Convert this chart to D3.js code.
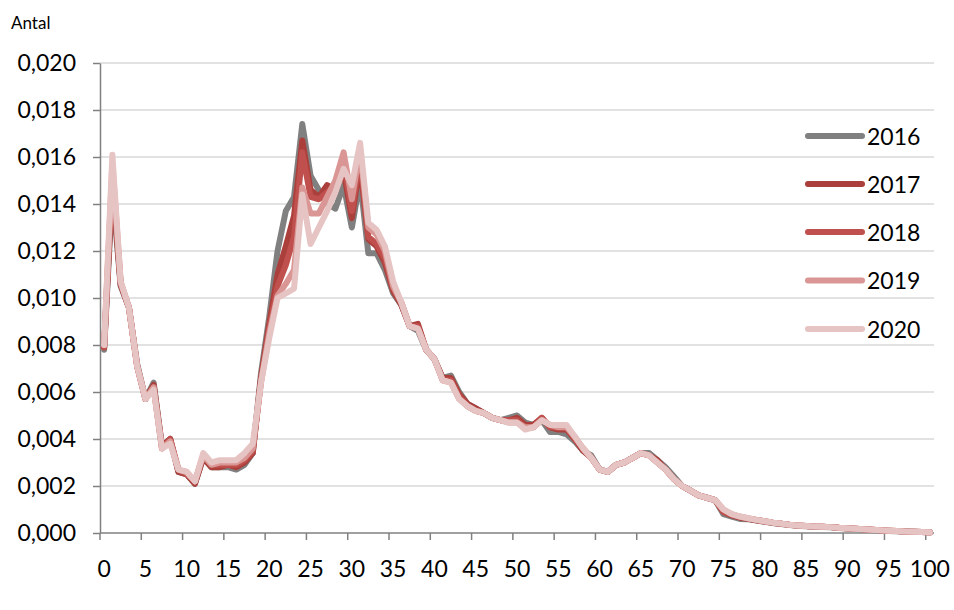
<!DOCTYPE html>
<html>
<head>
<meta charset="utf-8">
<script src="https://cdn.jsdelivr.net/npm/d3@7"></script>
<style>
  html, body { margin: 0; padding: 0; background: #fff; }
  svg { display: block; }
  text { font-family: Lato, "Open Sans", sans-serif; fill: #000; }
</style>
</head>
<body>
<svg id="chart" width="954" height="610"></svg>
<script>
// ---- Data ----
const ages = d3.range(0, 101);
const xTickLabels = [0, 5, 10, 15, 20, 25, 30, 35, 40, 45, 50, 55, 60, 65, 70, 75, 80, 85, 90, 95, 100];
const yTickValues = [0, 0.002, 0.004, 0.006, 0.008, 0.010, 0.012, 0.014, 0.016, 0.018, 0.020];
const seriesNames = ["2016", "2017", "2018", "2019", "2020"];

const v2016 = [
  0.0078, 0.0146, 0.0105, 0.0096, 0.0072, 0.0057, 0.0064, 0.0037, 0.0040, 0.0026,
  0.0025, 0.0021, 0.0032, 0.0028, 0.0028, 0.0028, 0.0027, 0.0029, 0.0034, 0.0068,
  0.0092, 0.0120, 0.0137, 0.0143, 0.0174, 0.0152, 0.0146, 0.0140, 0.0138, 0.0148,
  0.0130, 0.0150, 0.0119, 0.0119, 0.0112, 0.0102, 0.0097, 0.0088, 0.0086, 0.0078,
  0.0074, 0.0066, 0.0067, 0.0060, 0.0055, 0.0053, 0.0051, 0.0049, 0.0048, 0.0049,
  0.0050, 0.0047, 0.0046, 0.0048, 0.0043, 0.0043, 0.0042, 0.0039, 0.0035, 0.0033,
  0.0027, 0.0026, 0.0029, 0.0030, 0.0032, 0.0034, 0.0034, 0.0031, 0.0028, 0.0024,
  0.0020, 0.0018, 0.0016, 0.0015, 0.0014, 0.0008, 0.0007, 0.0006, 0.00058, 0.00053,
  0.00048, 0.00042, 0.00038, 0.00034, 0.00031, 0.00029, 0.00027, 0.00026, 0.00024, 0.00021,
  0.00019, 0.00017, 0.00015, 0.00013, 0.00011, 0.00009, 0.00007, 0.00006, 0.00005, 0.00004,
  0.00003
];
const v2017 = [
  0.0079, 0.0150, 0.0106, 0.0096, 0.0071, 0.0057, 0.0063, 0.0037, 0.0040, 0.0026,
  0.0025, 0.0021, 0.0032, 0.0028, 0.0028, 0.0029, 0.0028, 0.0030, 0.0034, 0.0066,
  0.0089, 0.0110, 0.0122, 0.0135, 0.0167, 0.0146, 0.0143, 0.0148, 0.0146, 0.0154,
  0.0134, 0.0157, 0.0125, 0.0122, 0.0115, 0.0103, 0.0097, 0.0088, 0.0089, 0.0078,
  0.0074, 0.0066, 0.0066, 0.0059, 0.0055, 0.0053, 0.0051, 0.0049, 0.0048, 0.0048,
  0.0049, 0.0046, 0.0046, 0.0049, 0.0045, 0.0044, 0.0044, 0.0040, 0.0035, 0.0032,
  0.0027, 0.0026, 0.0029, 0.0030, 0.0032, 0.0034, 0.0033, 0.0031, 0.0027, 0.0023,
  0.0020, 0.0018, 0.0016, 0.0015, 0.0014, 0.0009, 0.00075, 0.00065, 0.0006, 0.00054,
  0.00049, 0.00043, 0.00039, 0.00035, 0.00032, 0.0003, 0.00028, 0.00027, 0.00025, 0.00022,
  0.0002, 0.00018, 0.00016, 0.00014, 0.00012, 0.0001, 0.00008, 0.00006, 0.00005, 0.00004,
  0.00003
];
const v2018 = [
  0.0079, 0.0153, 0.0106, 0.0096, 0.0071, 0.0057, 0.0062, 0.0036, 0.0040, 0.0027,
  0.0025, 0.0022, 0.0033, 0.0029, 0.0029, 0.0029, 0.0029, 0.0031, 0.0035, 0.0065,
  0.0087, 0.0105, 0.0114, 0.0126, 0.0162, 0.0143, 0.0142, 0.0145, 0.0148, 0.0157,
  0.0137, 0.0160, 0.0126, 0.0123, 0.0117, 0.0104, 0.0098, 0.0088, 0.0088, 0.0078,
  0.0074, 0.0065, 0.0065, 0.0058, 0.0054, 0.0052, 0.0051, 0.0049, 0.0048, 0.0048,
  0.0048, 0.0045, 0.0045, 0.0049, 0.0045, 0.0045, 0.0045, 0.0040, 0.0036, 0.0032,
  0.0027, 0.0026, 0.0029, 0.0030, 0.0032, 0.0034, 0.0033, 0.0030, 0.0027, 0.0023,
  0.0020, 0.0018, 0.0016, 0.0015, 0.0014, 0.0009, 0.00078, 0.00068, 0.00061, 0.00055,
  0.0005, 0.00044, 0.0004, 0.00035, 0.00032, 0.0003, 0.00028, 0.00027, 0.00025, 0.00022,
  0.0002, 0.00018, 0.00016, 0.00014, 0.00012, 0.0001, 0.00008, 0.00006, 0.00005, 0.00004,
  0.00003
];
const v2019 = [
  0.0080, 0.0157, 0.0107, 0.0096, 0.0071, 0.0057, 0.0062, 0.0036, 0.0039, 0.0027,
  0.0026, 0.0022, 0.0033, 0.0029, 0.0030, 0.0030, 0.0030, 0.0032, 0.0036, 0.0064,
  0.0085, 0.0101, 0.0106, 0.0112, 0.0147, 0.0136, 0.0136, 0.0143, 0.0150, 0.0162,
  0.0142, 0.0163, 0.0130, 0.0127, 0.0120, 0.0105, 0.0098, 0.0088, 0.0087, 0.0078,
  0.0074, 0.0065, 0.0064, 0.0057, 0.0054, 0.0052, 0.0051, 0.0049, 0.0048, 0.0047,
  0.0047, 0.0045, 0.0045, 0.0048, 0.0046, 0.0045, 0.0045, 0.0041, 0.0036, 0.0032,
  0.0027, 0.0026, 0.0029, 0.0030, 0.0032, 0.0034, 0.0033, 0.0030, 0.0027, 0.0023,
  0.0020, 0.0018, 0.0016, 0.0015, 0.0014, 0.0010, 0.0008, 0.0007, 0.00063, 0.00056,
  0.0005, 0.00044, 0.0004, 0.00035, 0.00032, 0.0003, 0.00028, 0.00027, 0.00025, 0.00022,
  0.0002, 0.00018, 0.00016, 0.00014, 0.00012, 0.0001, 0.00008, 0.00006, 0.00005, 0.00004,
  0.00003
];
const v2020 = [
  0.0080, 0.0161, 0.0107, 0.0096, 0.0071, 0.0057, 0.0061, 0.0036, 0.0038, 0.0027,
  0.0026, 0.0022, 0.0034, 0.0030, 0.0031, 0.0031, 0.0031, 0.0034, 0.0038, 0.0064,
  0.0083, 0.0100, 0.0102, 0.0104, 0.0144, 0.0123, 0.0130, 0.0137, 0.0145, 0.0155,
  0.0148, 0.0166, 0.0132, 0.0129, 0.0122, 0.0107, 0.0098, 0.0088, 0.0087, 0.0078,
  0.0074, 0.0065, 0.0064, 0.0057, 0.0054, 0.0052, 0.0051, 0.0049, 0.0048, 0.0047,
  0.0047, 0.0044, 0.0045, 0.0048, 0.0046, 0.0046, 0.0046, 0.0041, 0.0036, 0.0032,
  0.0027, 0.0026, 0.0029, 0.0030, 0.0032, 0.0034, 0.0033, 0.0030, 0.0027, 0.0023,
  0.0020, 0.0018, 0.0016, 0.0015, 0.0014, 0.0010, 0.0008, 0.0007, 0.00063, 0.00056,
  0.0005, 0.00044, 0.0004, 0.00035, 0.00032, 0.0003, 0.00028, 0.00027, 0.00025, 0.00022,
  0.0002, 0.00018, 0.00016, 0.00014, 0.00012, 0.0001, 0.00008, 0.00006, 0.00005, 0.00004,
  0.00003
];
const seriesValues = [v2016, v2017, v2018, v2019, v2020];
const seriesColors = ["#808080", "#ab3f3b", "#c0504d", "#d99694", "#e6c4c3"];

// ---- Layout ----
const svg = d3.select("#chart");
const plot = { left: 100, right: 934, top: 63, bottom: 533 };

const x = d3.scaleBand()
  .domain(ages)
  .range([plot.left, plot.right])
  .paddingInner(0).paddingOuter(0);
const xc = d => x(d) + x.bandwidth() / 2;

const y = d3.scaleLinear()
  .domain([0, 0.020])
  .range([plot.bottom, plot.top]);

const fmt = v => d3.format(".3f")(v).replace(".", ",");

// gridlines
svg.append("g")
  .selectAll("line")
  .data(yTickValues.filter(v => v > 0))
  .join("line")
  .attr("x1", plot.left).attr("x2", plot.right)
  .attr("y1", d => y(d)).attr("y2", d => y(d))
  .attr("stroke", "#d9d9d9").attr("stroke-width", 1.5);

// y axis
const yAxis = svg.append("g")
  .attr("transform", `translate(${plot.left},0)`)
  .call(d3.axisLeft(y).tickValues(yTickValues).tickFormat(fmt).tickSize(7).tickSizeOuter(0).tickPadding(17));
yAxis.select(".domain").attr("stroke", "#808080").attr("stroke-width", 1.5);
yAxis.selectAll(".tick line").attr("stroke", "#808080").attr("stroke-width", 1.5);
yAxis.selectAll(".tick text")
  .attr("font-family", "Lato, sans-serif").attr("font-size", 23).attr("fill", "#000");

// x axis (ticks at category boundaries, labels at category centres)
const xAxisG = svg.append("g");
xAxisG.append("line")
  .attr("x1", plot.left).attr("x2", plot.right)
  .attr("y1", plot.bottom).attr("y2", plot.bottom)
  .attr("stroke", "#808080").attr("stroke-width", 1.5);
xAxisG.selectAll("line.tick")
  .data(xTickLabels)
  .join("line")
  .attr("class", "tick")
  .attr("x1", d => x(d)).attr("x2", d => x(d))
  .attr("y1", plot.bottom).attr("y2", plot.bottom + 7)
  .attr("stroke", "#808080").attr("stroke-width", 1.5);
xAxisG.selectAll("text")
  .data(xTickLabels)
  .join("text")
  .attr("x", d => xc(d))
  .attr("y", 577)
  .attr("text-anchor", "middle")
  .attr("font-size", 23)
  .text(d => d);

// title
svg.append("text")
  .attr("x", 11).attr("y", 29)
  .attr("font-size", 17)
  .text("Antal");

// lines
const line = d3.line()
  .x((d, i) => xc(ages[i]))
  .y(d => y(d));

svg.append("g")
  .selectAll("path")
  .data(seriesValues)
  .join("path")
  .attr("d", d => line(d))
  .attr("fill", "none")
  .attr("stroke", (d, i) => seriesColors[i])
  .attr("stroke-width", 6)
  .attr("stroke-linejoin", "round")
  .attr("stroke-linecap", "round");

// legend
const legend = svg.append("g");
const legY = [136, 184, 232, 280.5, 329];
seriesNames.forEach((name, i) => {
  legend.append("line")
    .attr("x1", 808).attr("x2", 862)
    .attr("y1", legY[i]).attr("y2", legY[i])
    .attr("stroke", seriesColors[i]).attr("stroke-width", 6)
    .attr("stroke-linecap", "round");
  legend.append("text")
    .attr("x", 867).attr("y", legY[i] + 8.5)
    .attr("font-size", 23)
    .text(name);
});
</script>
</body>
</html>
